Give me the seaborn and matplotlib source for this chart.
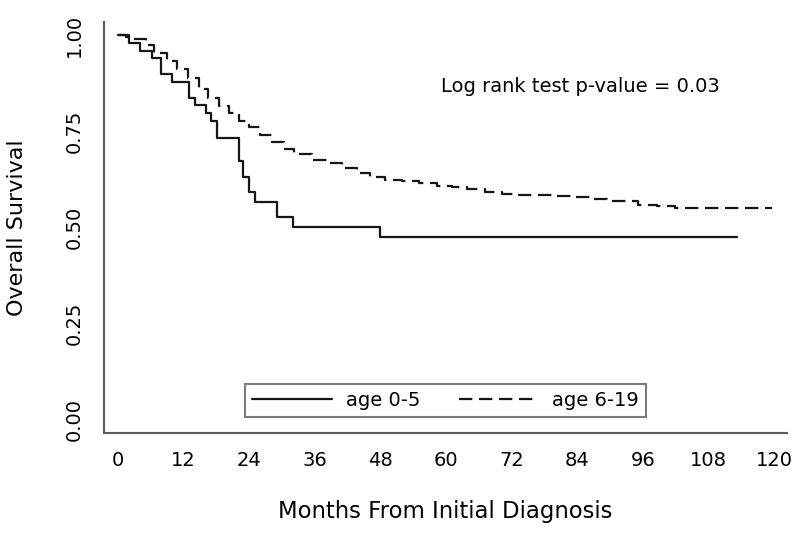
import matplotlib
matplotlib.use("Agg")
import matplotlib.pyplot as plt
import seaborn as sns
import pandas as pd

# --- data ---
young_months = [0, 2.1, 4.1, 6.2, 8.0, 9.9, 13.1, 14.1, 16.1, 17.1, 18.1,
                22.1, 23.0, 24.0, 25.1, 29.1, 32.1, 48.0, 113.2]
young_surv = [1.0, 0.980, 0.958, 0.939, 0.898, 0.878, 0.836, 0.817, 0.796,
              0.777, 0.733, 0.673, 0.630, 0.591, 0.566, 0.526, 0.500, 0.474, 0.474]

old_months = [0, 1.5, 2.7, 5.1, 6.6, 9.1, 10.9, 12.8, 14.8, 16.6, 18.5, 20.3,
              22.1, 24.0, 26.1, 28.2, 30.4, 32.2, 35.5, 38.3, 41.0, 43.8, 46.2,
              48.9, 52.0, 55.0, 58.4, 61.1, 63.9, 67.2, 70.3, 73.3, 79.7, 83.1,
              86.4, 89.5, 92.5, 95.2, 98.6, 101.9, 105.0, 119.6]
old_surv = [1.0, 0.995, 0.989, 0.973, 0.954, 0.933, 0.911, 0.889, 0.859, 0.837,
            0.816, 0.798, 0.777, 0.760, 0.740, 0.721, 0.703, 0.690, 0.675, 0.666,
            0.653, 0.641, 0.631, 0.623, 0.619, 0.614, 0.608, 0.604, 0.599, 0.591,
            0.587, 0.584, 0.580, 0.578, 0.5725, 0.569, 0.567, 0.558, 0.554, 0.551,
            0.550, 0.550]

group_labels = ["age 0-5", "age 6-19"]
x_ticks = [0, 12, 24, 36, 48, 60, 72, 84, 96, 108, 120]
y_ticks = [0.0, 0.25, 0.5, 0.75, 1.0]
y_tick_labels = ["0.00", "0.25", "0.50", "0.75", "1.00"]
annotation = "Log rank test p-value = 0.03"

sns.set_theme(style="white")
plt.rcParams["font.family"] = ["DejaVu Sans"]

df_young = pd.DataFrame({"month": young_months, "surv": young_surv})
df_old = pd.DataFrame({"month": old_months, "surv": old_surv})

fig = plt.figure(figsize=(8, 5.35), dpi=100)
ax = fig.add_axes([0.13, 0.1912, 0.854, 0.7682])

line_col = "#151515"
axis_col = "#5a5a5a"
text_col = "#000000"

sns.lineplot(data=df_young, x="month", y="surv", ax=ax, color=line_col,
             linewidth=1.6, drawstyle="steps-post", estimator=None, sort=False,
             label=group_labels[0])
sns.lineplot(data=df_old, x="month", y="surv", ax=ax, color=line_col,
             linewidth=1.6, drawstyle="steps-post", estimator=None, sort=False,
             linestyle=(0, (6, 3)), label=group_labels[1])

ax.set_xlim(-2.5, 122.4)
ax.set_ylim(-0.035, 1.0346)
ax.set_xticks(x_ticks)
ax.set_xticklabels([str(t) for t in x_ticks])
ax.set_yticks(y_ticks)
ax.set_yticklabels(y_tick_labels, rotation=90, va="center")

for s in ["top", "right"]:
    ax.spines[s].set_visible(False)
for s in ["left", "bottom"]:
    ax.spines[s].set_color(axis_col)
    ax.spines[s].set_linewidth(1.5)

ax.tick_params(axis="both", which="major", direction="out", length=6.5,
               width=1.3, color=axis_col, labelsize=14, labelcolor=text_col)
ax.tick_params(axis="x", pad=7)
ax.tick_params(axis="y", pad=8)

ax.set_xlabel("Months From Initial Diagnosis", fontsize=16.4, color=text_col,
              labelpad=21)
ax.set_ylabel("Overall Survival", fontsize=16, color=text_col, labelpad=27)

ax.text(59.1, 0.867, annotation, fontsize=14, ha="left", va="center",
        color=text_col)

handles, labels = ax.get_legend_handles_labels()
leg = ax.legend(handles, labels, loc="center", bbox_to_anchor=(0.5, 0.078),
                ncol=2, fontsize=14, frameon=True, fancybox=False,
                handlelength=4.1, handletextpad=0.7, columnspacing=2.0,
                borderpad=0.35)
leg.get_frame().set_edgecolor(axis_col)
leg.get_frame().set_linewidth(1.5)
for t in leg.get_texts():
    t.set_color(text_col)

fig.savefig("out.png", dpi=100)
